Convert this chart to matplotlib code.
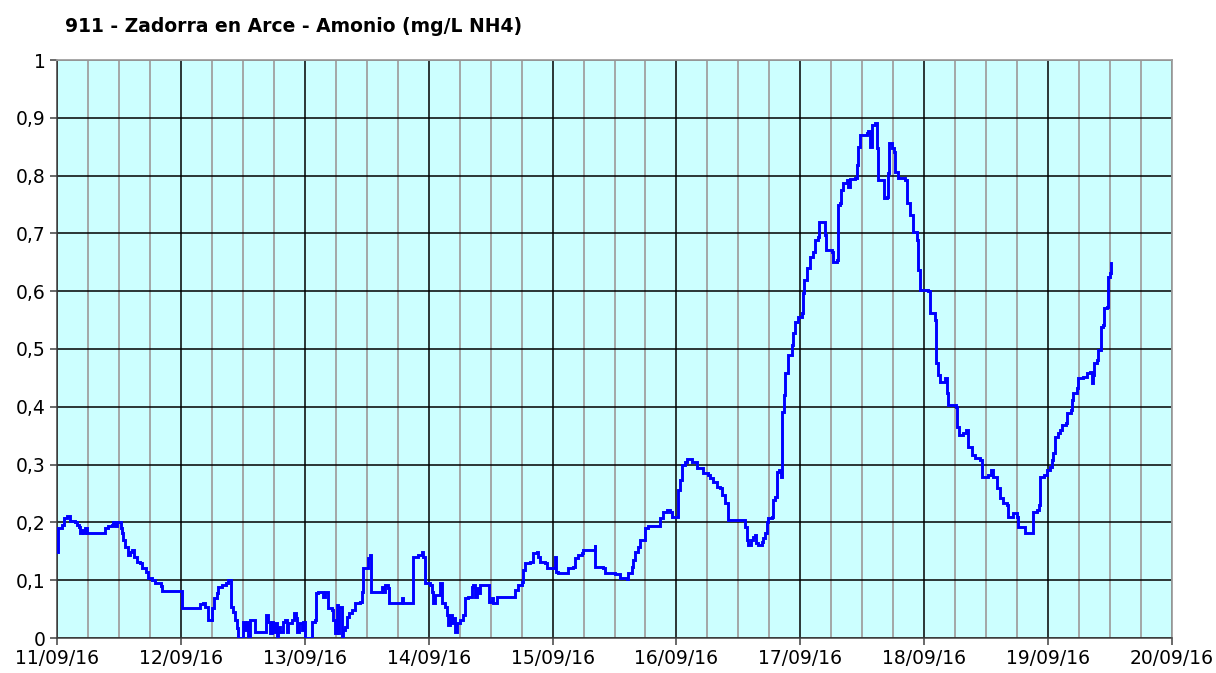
import matplotlib
matplotlib.use("Agg")
import matplotlib.pyplot as plt
from matplotlib.ticker import MultipleLocator, FixedLocator

# hours since 11/09/16 00:00
hours = [0.0, 0.19, 0.97, 1.36, 1.94, 2.52, 3.49, 3.87, 4.26, 4.46, 4.84, 5.04, 5.42, 5.81,
         8.91, 9.30, 9.88, 10.65, 10.85, 11.23, 11.62, 12.20, 12.40, 12.59, 12.78, 13.17,
         13.75, 14.14, 14.53, 14.92, 15.50, 16.08, 16.46, 17.24, 17.63, 18.40, 18.98, 20.15,
         20.34, 24.2, 24.21, 27.31, 27.70, 28.28, 28.67, 29.25, 30.02, 30.1, 30.41, 30.99,
         31.19, 31.96, 32.74, 33.12, 33.51, 33.70, 34.09, 34.48, 34.87, 35.06, 35.83, 36.03,
         36.42, 36.80, 37.0, 37.38, 37.97, 38.35, 40.29, 40.48, 40.87, 41.26, 41.65, 41.84,
         42.23, 42.61, 42.81, 43.20, 43.78, 44.16, 44.55, 44.75, 45.52, 45.91, 46.29, 46.49,
         46.88, 47.46, 47.65, 48.04, 49.0, 49.39, 49.98, 50.17, 50.56, 51.52, 51.91, 52.30,
         52.49, 53.27, 53.46, 53.85, 54.24, 54.43, 54.62, 55.20, 55.40, 55.79, 56.17, 56.56,
         57.14, 57.72, 58.69, 59.08, 59.27, 60.05, 60.24, 60.63, 60.82, 62.57, 62.95, 63.15,
         63.53, 64.11, 64.31, 66.44, 66.83, 67.02, 68.96, 69.05, 69.93, 70.70, 70.90, 71.28,
         72.25, 72.64, 72.83, 73.22, 74.19, 74.58, 75.16, 75.55, 75.74, 76.13, 76.52, 76.71,
         77.10, 77.48, 78.06, 78.64, 79.03, 79.61, 80.39, 80.58, 80.97, 81.35, 81.55, 81.94,
         83.49, 83.68, 84.26, 84.45, 85.23, 88.33, 88.71, 89.30, 90.07, 90.26, 90.65, 91.62,
         92.20, 92.98, 93.17, 93.56, 94.53, 94.91, 95.88, 96.46, 96.66, 97.04, 98.79, 98.98,
         99.95, 100.34, 100.92, 101.69, 101.89, 104.02, 104.21, 104.3, 105.76, 106.15, 108.09,
         109.06, 110.41, 110.61, 111.38, 111.58, 111.96, 112.54, 112.93, 113.51, 113.90,
         114.48, 116.41, 116.80, 117.38, 118.16, 118.74, 119.12, 120.09, 120.29, 120.68,
         121.06, 121.65, 122.03, 122.61, 123.0, 123.97, 124.94, 125.13, 126.10, 126.49,
         127.07, 127.84, 128.42, 128.81, 129.39, 129.97, 132.88, 133.27, 133.65, 133.85,
         134.43, 134.82, 135.20, 135.40, 135.78, 136.56, 136.75, 137.14, 137.53, 137.72,
         138.50, 138.69, 139.08, 139.46, 139.85, 140.24, 140.43, 140.82, 141.01, 141.59,
         142.37, 142.56, 142.95, 143.53, 144.31, 144.50, 144.69, 145.28, 145.86, 146.44,
         146.82, 147.41, 147.60, 148.57, 148.76, 148.96, 150.12, 150.31, 151.09, 151.2,
         151.67, 151.86, 152.25, 153.02, 153.22, 153.60, 154.57, 154.96, 155.15, 155.54,
         156.90, 157.09, 157.48, 157.87, 158.45, 158.84, 159.03, 160.0, 160.19, 160.77,
         160.97, 161.16, 161.74, 162.13, 162.32, 162.90, 164.26, 164.65, 165.23, 165.81,
         166.59, 166.78, 167.17, 168.72, 169.10, 170.07, 170.27, 170.65, 171.04, 172.01,
         172.40, 172.59, 174.14, 174.33, 174.72, 175.49, 176.08, 176.46, 177.24, 177.82,
         178.79, 179.18, 180.34, 180.92, 181.31, 182.08, 182.66, 183.24, 184.02, 184.21,
         185.18, 185.96, 186.15, 187.12, 187.50, 188.86, 189.05, 189.83, 190.21, 190.41,
         191.18, 191.76, 192.34, 192.73, 192.93, 193.31, 193.89, 194.28, 194.67, 195.44,
         195.64, 196.41, 196.61, 196.80, 197.58, 197.77, 198.74, 199.51, 200.09, 200.48,
         200.68, 200.87, 201.45, 201.65, 202.23, 202.61, 202.81, 203.39, 203.58, 203.97,
         204.16]

amonio = [0.149, 0.19, 0.196, 0.208, 0.211, 0.202, 0.20, 0.196, 0.192, 0.182, 0.187, 0.182, 0.19, 0.182,
          0.182, 0.19, 0.194, 0.196, 0.20, 0.194, 0.20, 0.20, 0.19, 0.182, 0.17, 0.157,
          0.144, 0.149, 0.152, 0.14, 0.131, 0.13, 0.121, 0.114, 0.104, 0.10, 0.095, 0.09,
          0.081, 0.081, 0.052, 0.052, 0.059, 0.06, 0.054, 0.031, 0.03, 0.052, 0.069, 0.078,
          0.088, 0.092, 0.095, 0.10, 0.10, 0.054, 0.045, 0.031, 0.017, 0.0, 0.0, 0.028,
          0.014, 0.028, 0.0, 0.031, 0.031, 0.01, 0.01, 0.04, 0.028, 0.009, 0.028, 0.01,
          0.026, 0.0, 0.019, 0.01, 0.028, 0.031, 0.01, 0.026, 0.031, 0.043, 0.035, 0.01,
          0.026, 0.014, 0.028, 0.0, 0.0, 0.028, 0.031, 0.078, 0.08, 0.071, 0.08, 0.08,
          0.052, 0.048, 0.031, 0.009, 0.057, 0.009, 0.054, 0.0, 0.014, 0.019, 0.036, 0.043,
          0.048, 0.06, 0.062, 0.08, 0.121, 0.121, 0.138, 0.144, 0.08, 0.08, 0.088, 0.08,
          0.092, 0.087, 0.06, 0.06, 0.069, 0.06, 0.06, 0.14, 0.144, 0.149, 0.14, 0.095,
          0.092, 0.08, 0.06, 0.074, 0.095, 0.06, 0.054, 0.04, 0.022, 0.04, 0.026, 0.035,
          0.01, 0.026, 0.031, 0.04, 0.069, 0.071, 0.088, 0.092, 0.071, 0.087, 0.078, 0.092,
          0.092, 0.062, 0.069, 0.06, 0.071, 0.071, 0.083, 0.092, 0.097, 0.118, 0.13, 0.131,
          0.147, 0.149, 0.14, 0.131, 0.13, 0.121, 0.121, 0.14, 0.114, 0.112, 0.112, 0.121,
          0.123, 0.138, 0.144, 0.147, 0.152, 0.152, 0.161, 0.123, 0.121, 0.112, 0.111,
          0.104, 0.102, 0.112, 0.123, 0.135, 0.149, 0.157, 0.17, 0.17, 0.19,
          0.194, 0.194, 0.208, 0.218, 0.221, 0.218, 0.209, 0.209, 0.256, 0.273,
          0.30, 0.304, 0.31, 0.31, 0.304, 0.294, 0.294, 0.285, 0.282, 0.277,
          0.27, 0.261, 0.26, 0.247, 0.234, 0.204, 0.204, 0.192, 0.17, 0.161,
          0.17, 0.175, 0.178, 0.164, 0.161, 0.166, 0.173, 0.182, 0.20, 0.208,
          0.209, 0.239, 0.244, 0.287, 0.291, 0.279, 0.391, 0.42, 0.458, 0.49,
          0.507, 0.528, 0.547, 0.555, 0.562, 0.597, 0.619, 0.64, 0.659, 0.668,
          0.689, 0.694, 0.72, 0.72, 0.697, 0.671, 0.668, 0.651, 0.654, 0.749,
          0.753, 0.775, 0.787, 0.792, 0.78, 0.794, 0.796, 0.818, 0.849, 0.87,
          0.874, 0.877, 0.849, 0.888, 0.891, 0.848, 0.792, 0.792, 0.761, 0.763,
          0.804, 0.856, 0.848, 0.841, 0.806, 0.796, 0.792, 0.753, 0.732, 0.702,
          0.689, 0.637, 0.602, 0.60, 0.562, 0.55, 0.476, 0.455, 0.443, 0.45,
          0.424, 0.403, 0.40, 0.365, 0.351, 0.355, 0.36, 0.33, 0.317, 0.311,
          0.308, 0.279, 0.282, 0.291, 0.279, 0.26, 0.242, 0.234, 0.23, 0.209,
          0.216, 0.209, 0.192, 0.192, 0.182, 0.182, 0.218, 0.221, 0.23, 0.279,
          0.282, 0.291, 0.296, 0.308, 0.32, 0.348, 0.355, 0.36, 0.369, 0.372,
          0.389, 0.394, 0.412, 0.424, 0.433, 0.45, 0.452, 0.458, 0.46, 0.441,
          0.455, 0.476, 0.481, 0.498, 0.538, 0.542, 0.571, 0.573, 0.625, 0.631,
          0.649]

day_labels = ["11/09/16", "12/09/16", "13/09/16", "14/09/16", "15/09/16",
              "16/09/16", "17/09/16", "18/09/16", "19/09/16", "20/09/16"]
y_ticks = [0.0, 0.1, 0.2, 0.3, 0.4, 0.5, 0.6, 0.7, 0.8, 0.9, 1.0]
y_labels = ["0", "0,1", "0,2", "0,3", "0,4", "0,5", "0,6", "0,7", "0,8", "0,9", "1"]
title = "911 - Zadorra en Arce - Amonio (mg/L NH4)"

W, H = 1216, 673
fig = plt.figure(figsize=(W / 100, H / 100), dpi=100)
fig.patch.set_facecolor("white")
ax = fig.add_axes([57 / W, (H - 638) / H, (1172 - 57) / W, (638 - 60) / H])
ax.set_facecolor("#CCFFFF")

days = [h / 24.0 for h in hours]
ax.plot(days, amonio, color="#0000FF", linewidth=2.1, drawstyle="steps-post",
        solid_joinstyle="miter", zorder=5)

ax.set_xlim(0, 9)
ax.set_ylim(0, 1)

ax.xaxis.set_major_locator(FixedLocator(list(range(len(day_labels)))))
ax.set_xticklabels(day_labels)
ax.xaxis.set_minor_locator(MultipleLocator(0.25))
ax.set_yticks(y_ticks)
ax.set_yticklabels(y_labels)

ax.grid(which="minor", axis="x", color="#A0A0A0", linewidth=1.3, zorder=1)
ax.grid(which="major", axis="x", color="#000000", linewidth=1.1, zorder=2)
ax.grid(which="major", axis="y", color="#000000", linewidth=1.1, zorder=2)
ax.set_axisbelow(True)

ax.tick_params(axis="both", which="major", direction="out", length=5, width=1.1,
               color="#404040", labelsize=13.5, labelcolor="#000000", pad=3)
ax.tick_params(axis="x", which="minor", length=0)

for side in ("top", "right"):
    ax.spines[side].set_color("#A0A0A0")
    ax.spines[side].set_linewidth(1.3)
for side in ("left", "bottom"):
    ax.spines[side].set_color("#404040")
    ax.spines[side].set_linewidth(1.1)

fig.text(65 / W, 1 - 26 / H, title, fontsize=13.5, fontweight="bold",
         ha="left", va="center", color="#000000")

fig.savefig("out.png", dpi=100)
